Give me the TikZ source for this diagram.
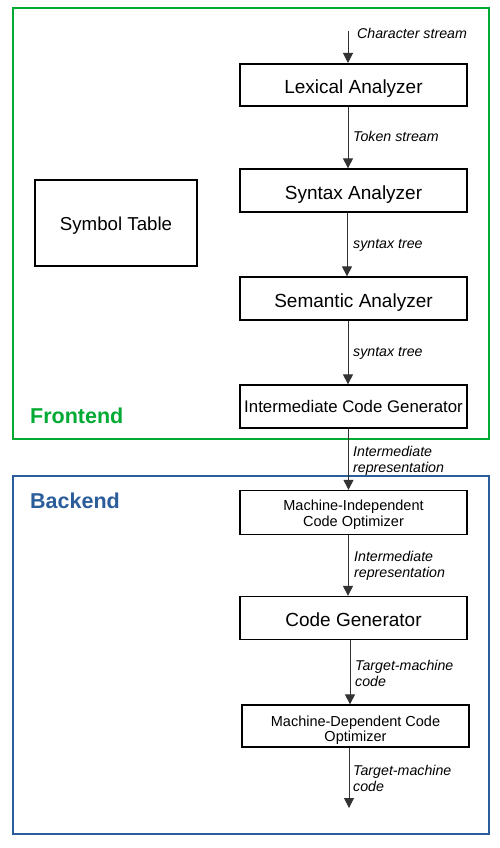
\documentclass[tikz,border=0pt]{standalone}
\usepackage{fontspec}
\setmainfont{Liberation Sans}
\usetikzlibrary{arrows.meta}
\definecolor{fegreen}{RGB}{0,170,51}
\definecolor{beblue}{RGB}{42,93,154}
\tikzset{
  stage/.style={draw=black, line width=1.3pt, minimum width=227pt, minimum height=43pt, inner sep=0pt, font=\fontsize{19}{22}\selectfont, text height=17pt, text depth=0pt},
  boxtext/.style={inner sep=0pt, align=center, font=\fontsize{14.5}{15.5}\selectfont},
  flow/.style={draw=black!80, line width=1pt, -{Triangle[width=10pt,length=10pt]}},
  lbl/.style={anchor=west, inner sep=0pt, align=left, font=\fontsize{14.2}{16}\selectfont\itshape},
  group/.style={line width=2.2pt},
  grouplbl/.style={anchor=west, inner sep=0pt, font=\fontsize{21.5}{24}\selectfont\bfseries}
}
\begin{document}
\begin{tikzpicture}[x=1pt,y=-1pt]
\useasboundingbox (0,0) rectangle (500,848);
% groups
\draw[group, draw=fegreen] (13,8) rectangle (489,439);
\draw[group, draw=beblue] (13,476) rectangle (489,834);
\node[grouplbl, text=fegreen] (fe) at (30,416) {Frontend};
\node[grouplbl, text=beblue] (be) at (30,501) {Backend};
% nodes
\node[stage, line width=2pt, minimum height=42pt] (lex) at (353.5,85) {Lexical Analyzer};
\node[stage] (syn) at (353.5,190.5) {Syntax Analyzer};
\node[stage] (sem) at (353.5,298.5) {Semantic Analyzer};
\node[stage, font=\fontsize{16.8}{20}\selectfont, text height=11pt] (icg) at (353.5,406.5) {Intermediate Code Generator};
\node[stage, minimum height=44pt, label={[boxtext, yshift=-2pt]center:Machine-Independent\\Code Optimizer}] (mio) at (353.5,512.5) {};
\node[stage, text height=16pt] (cg) at (353.5,618) {Code Generator};
\node[stage, minimum height=42pt, label={[boxtext, yshift=-4pt]center:Machine-Dependent Code\\Optimizer}] (mdo) at (355.5,726) {};
\node[stage, minimum width=162pt, minimum height=86pt, font=\fontsize{18.7}{22}\selectfont, text height=14pt] (sym) at (116,223) {Symbol Table};
% connectors
\coordinate (in) at (348,31);
\coordinate (out) at (349,808);
\draw[flow] (in) -- (in |- lex.north);
\draw[flow] ([xshift=-5.5pt]lex.south) -- ([xshift=-5.5pt]syn.north);
\draw[flow] ([xshift=-6.5pt]syn.south) -- ([xshift=-6.5pt]sem.north);
\draw[flow] ([xshift=-5.5pt]sem.south) -- ([xshift=-5.5pt]icg.north);
\draw[flow] ([xshift=-5pt]icg.south) -- ([xshift=-5pt]mio.north);
\draw[flow] ([xshift=-5.5pt]mio.south) -- ([xshift=-5.5pt]cg.north);
\draw[flow] ([xshift=-3.5pt]cg.south) -- ([xshift=-5.5pt]mdo.north);
\draw[flow] (mdo.south -| out) -- (out);
% labels
\node[lbl] (l1) at (357,33) {Character stream};
\node[lbl] (l2) at (353,136) {Token stream};
\node[lbl] (l3) at (353,245.5) {syntax tree};
\node[lbl] (l4) at (353,353.5) {syntax tree};
\node[lbl] (l5) at (353,461) {Intermediate\\representation};
\node[lbl] (l6) at (354,566) {Intermediate\\representation};
\node[lbl] (l7) at (355,673) {Target-machine\\code};
\node[lbl] (l8) at (353,778) {Target-machine\\code};
\end{tikzpicture}
\end{document}
